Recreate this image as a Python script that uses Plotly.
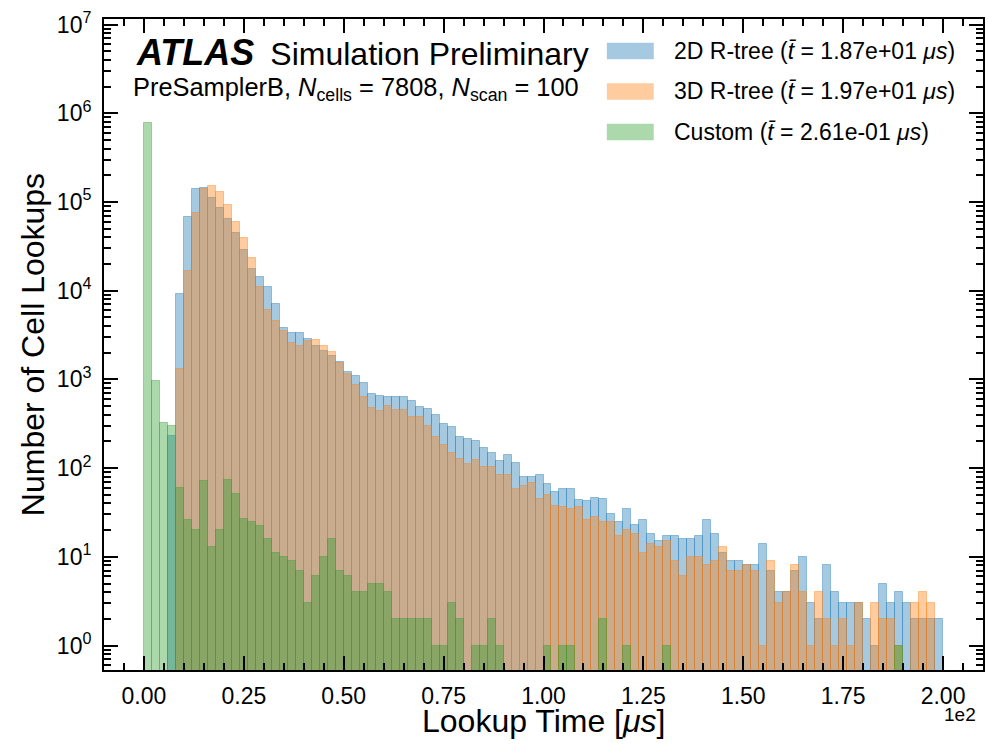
import plotly.graph_objects as go

# ---------------- data ----------------
bin_width = 2.0
bin_lows = [2.0 * i for i in range(100)]  # 0 .. 198 (µs)

counts_2d = [0, 0, 0, 230, 9170, 67500, 138600, 142600, 110000, 84900,
             63700, 44200, 28400, 17400, 14100, 10900, 7050, 3800, 3340, 3340,
             2850, 2380, 2090, 1840, 1570, 1210, 1090, 910, 685, 650,
             634, 634, 634, 571, 489, 464, 397, 314, 290, 224,
             213, 202, 169, 148, 120, 141, 114, 79, 79, 84,
             66, 54, 58, 58, 44, 43, 46, 45, 30, 25,
             35, 23, 26, 18, 15, 17, 17, 16, 16, 17,
             26, 18, 11, 9, 9, 8, 8, 14, 7, 4,
             4, 7, 10, 3, 2, 8, 4, 3, 3, 3,
             2, 1, 5, 3, 4, 3, 2, 2, 2, 2]

counts_3d = [0, 0, 0, 0, 1309, 16600, 75000, 138700, 151000, 128300,
             91700, 59000, 39000, 23300, 10900, 6010, 4550, 3510, 2570, 2380,
             2700, 2770, 2380, 2040, 1530, 1150, 865, 634, 476, 441,
             502, 453, 453, 377, 377, 298, 224, 182, 148, 127,
             111, 123, 103, 103, 84, 84, 58, 63, 68, 45,
             50, 37, 36, 35, 36, 26, 28, 25, 25, 17,
             20, 18, 11, 14, 13, 15, 9, 6, 10, 10,
             8, 9, 13, 7, 7, 8, 7, 1, 9, 3,
             4, 8, 4, 1, 4, 2, 1, 2, 1, 3,
             0, 3, 2, 2, 1, 0, 3, 4, 3, 0]

counts_custom = [778000, 950, 320, 300, 60, 26, 20, 72, 13, 20,
                 74, 51, 27, 25, 22, 16, 11, 10, 9, 7,
                 3, 6, 10, 16, 7, 6, 4, 4, 5, 5,
                 4, 2, 2, 2, 2, 2, 1, 1, 3, 2,
                 0, 1, 1, 2, 1, 0, 0, 0, 0, 0,
                 1, 0, 1, 1, 0, 0, 0, 2, 0, 0,
                 1, 0, 0, 0, 0, 1, 0, 0, 0, 0,
                 0, 0, 0, 0, 0, 0, 0, 0, 0, 0,
                 0, 0, 0, 0, 0, 0, 0, 0, 0, 0,
                 0, 0, 0, 0, 1, 0, 0, 0, 0, 0]

series_names = ["2D R-tree", "3D R-tree", "Custom"]
series_means = ["1.87e+01", "1.97e+01", "2.61e-01"]
series_rgb = [(31, 119, 180), (255, 127, 14), (44, 160, 44)]
alpha = 0.4

x_tick_vals = [0, 25, 50, 75, 100, 125, 150, 175, 200]
x_tick_text = ["0.00", "0.25", "0.50", "0.75", "1.00", "1.25", "1.50", "1.75", "2.00"]
y_tick_exps = [0, 1, 2, 3, 4, 5, 6, 7]

# ---------------- figure ----------------
FONT = "Liberation Sans, Arial, Helvetica, sans-serif"
W, H = 988, 745
PL, PR, PT, PB = 104, 985, 19, 670


def px(x):
    return (x - PL) / (PR - PL)


def py(y):
    return (PB - y) / (PB - PT)


def rgba(c, a):
    return f"rgba({c[0]},{c[1]},{c[2]},{a})"


centers = [lo + bin_width / 2 for lo in bin_lows]
fig = go.Figure()
for name, vals, col in zip(series_names, [counts_2d, counts_3d, counts_custom], series_rgb):
    fig.add_trace(go.Bar(
        x=centers,
        y=[v if v > 0 else None for v in vals],
        width=bin_width,
        name=name,
        marker=dict(color=rgba(col, alpha), line=dict(color=rgba(col, alpha), width=1)),
        showlegend=False,
    ))

minor_y = [m * 10 ** e for e in range(-1, 8) for m in range(2, 10)]

fig.update_layout(
    width=W, height=H,
    margin=dict(l=PL, r=W - PR, t=PT, b=H - PB),
    paper_bgcolor="white", plot_bgcolor="white",
    barmode="overlay", bargap=0,
    font=dict(family=FONT, color="black"),
    xaxis=dict(
        range=[-10, 210], showgrid=False, zeroline=False,
        showline=True, linecolor="black", linewidth=2, mirror="ticks",
        ticks="inside", ticklen=14, tickwidth=2, tickcolor="black",
        tickvals=x_tick_vals, ticktext=x_tick_text,
        tickfont=dict(size=23, family=FONT, color="black"),
        ticklabelstandoff=4,
        minor=dict(ticks="inside", ticklen=7, tickwidth=1.5, tickcolor="black", dtick=5, showgrid=False),
    ),
    yaxis=dict(
        type="log", range=[-0.276, 7.063], showgrid=False, zeroline=False,
        showline=True, linecolor="black", linewidth=2, mirror="ticks",
        ticks="inside", ticklen=14, tickwidth=2, tickcolor="black",
        tickvals=[10 ** e for e in y_tick_exps],
        ticktext=[f"10<sup>{e}</sup>" for e in y_tick_exps],
        tickfont=dict(size=23, family=FONT, color="black"),
        ticklabelstandoff=6,
        minor=dict(ticks="inside", ticklen=7, tickwidth=1.5, tickcolor="black",
                   tickvals=minor_y, showgrid=False),
    ),
)

ann = []
# axis titles
ann.append(dict(text="Lookup Time [<i>μs</i>]", x=px(544), y=py(721), xref="paper", yref="paper",
                xanchor="center", yanchor="middle", showarrow=False, font=dict(size=32, family=FONT)))
ann.append(dict(text="Number of Cell Lookups", x=px(33), y=py(345), xref="paper", yref="paper",
                xanchor="center", yanchor="middle", textangle=-90, showarrow=False,
                font=dict(size=32, family=FONT)))
ann.append(dict(text="1e2", x=px(962), y=py(714), xref="paper", yref="paper",
                xanchor="center", yanchor="middle", showarrow=False, font=dict(size=19, family=FONT)))
# ATLAS label
ann.append(dict(text="<span style='font-size:36px'><b><i>ATLAS</i></b></span>\u2002Simulation Preliminary",
                x=px(134), y=py(52), xref="paper",
                yref="paper", xanchor="left", yanchor="middle", showarrow=False,
                font=dict(size=32, family=FONT)))
ann.append(dict(text="PreSamplerB, <i>N</i><sub>cells</sub> = 7808, <i>N</i><sub>scan</sub> = 100",
                x=px(131), y=py(89), xref="paper", yref="paper", xanchor="left", yanchor="middle",
                showarrow=False, font=dict(size=25.4, family=FONT)))

# manual legend
shapes = []
row_y = [51, 91.5, 132]
for name, mean, col, yc in zip(series_names, series_means, series_rgb, row_y):
    shapes.append(dict(type="rect", xref="paper", yref="paper", x0=px(608), x1=px(655),
                       y0=py(yc + 8.3), y1=py(yc - 8.3), fillcolor=rgba(col, alpha),
                       line=dict(width=0)))
    ann.append(dict(text=f"{name} (<i>t\u0304</i> = {mean} <i>μs</i>)", x=px(673), y=py(yc),
                    xref="paper", yref="paper", xanchor="left", yanchor="middle", showarrow=False,
                    font=dict(size=23, family=FONT)))

fig.update_layout(annotations=ann, shapes=shapes)
fig.write_html("out.html")
